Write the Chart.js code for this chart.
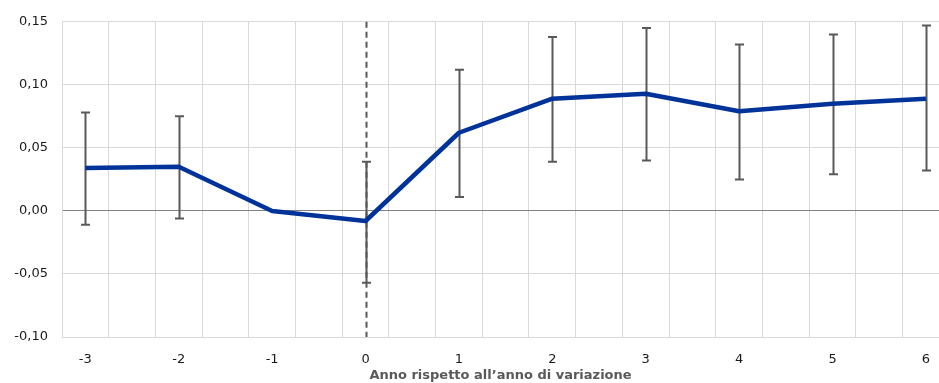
<!DOCTYPE html>
<html>
<head>
<meta charset="utf-8">
<script src="https://cdn.jsdelivr.net/npm/chart.js@4/dist/chart.umd.min.js"></script>
<style>
  html, body { margin: 0; padding: 0; background: #ffffff; overflow: hidden; }
  #wrap { width: 939px; height: 383px; position: relative; }
</style>
</head>
<body>
<div id="wrap"><canvas id="c"></canvas></div>
<script>
// Years relative to the year of change
const categories = [-3, -2, -1, 0, 1, 2, 3, 4, 5, 6];
// Point estimates
const estimate = [0.034, 0.035, 0.000, -0.008, 0.062, 0.089, 0.093, 0.079, 0.085, 0.089];
// Confidence interval bounds (reference year -1 has none)
const upper = [0.078, 0.075, null, 0.039, 0.112, 0.138, 0.145, 0.132, 0.140, 0.147];
const lower = [-0.011, -0.006, null, -0.057, 0.011, 0.039, 0.040, 0.025, 0.029, 0.032];
// Y axis ticks
const yTicks = [-0.10, -0.05, 0.00, 0.05, 0.10, 0.15];

const fmt = v => (Math.abs(v) < 1e-9 ? 0 : v).toFixed(2).replace('.', ',');

// Vertical dashed marker at the year of change, plus error bars
const overlays = {
  id: 'overlays',
  beforeDatasetsDraw(chart) {
    const { ctx, chartArea, scales: { x, y } } = chart;
    ctx.save();
    // dashed marker at 0
    const x0 = Math.round(x.getPixelForValue(0)) + 0.5;
    ctx.strokeStyle = '#595959';
    ctx.lineWidth = 2;
    ctx.setLineDash([6, 4]);
    ctx.beginPath();
    ctx.moveTo(x0, chartArea.top);
    ctx.lineTo(x0, chartArea.bottom);
    ctx.stroke();
    ctx.setLineDash([]);
    // error bars
    ctx.strokeStyle = '#595959';
    ctx.lineWidth = 2;
    categories.forEach((c, i) => {
      if (upper[i] == null || lower[i] == null) return;
      const px = Math.round(x.getPixelForValue(c)) + 0.5;
      const yt = y.getPixelForValue(upper[i]);
      const yb = y.getPixelForValue(lower[i]);
      ctx.beginPath();
      ctx.moveTo(px, yt); ctx.lineTo(px, yb);
      ctx.moveTo(px - 4.5, yt); ctx.lineTo(px + 4.5, yt);
      ctx.moveTo(px - 4.5, yb); ctx.lineTo(px + 4.5, yb);
      ctx.stroke();
    });
    ctx.restore();
  }
};

Chart.defaults.font.family = '"DejaVu Sans", sans-serif';
Chart.defaults.font.size = 13;
Chart.defaults.color = '#1a1a1a';

new Chart(document.getElementById('c'), {
  type: 'line',
  data: {
    datasets: [{
      data: categories.map((c, i) => ({ x: c, y: estimate[i] })),
      borderColor: '#003399',
      borderWidth: 4.5,
      pointRadius: 0,
      borderJoinStyle: 'round',
      tension: 0
    }]
  },
  options: {
    responsive: true,
    maintainAspectRatio: false,
    animation: false,
    layout: { padding: { top: 20, left: 0, right: 0, bottom: 0 } },
    plugins: { legend: { display: false }, tooltip: { enabled: false } },
    scales: {
      x: {
        type: 'linear',
        min: -3.25,
        max: 6.14,
        afterBuildTicks(axis) {
          const t = [];
          for (let k = 0; k <= 18; k++) t.push(-3.25 + 0.5 * k);
          categories.forEach(c => t.push(c));
          t.sort((a, b) => a - b);
          axis.ticks = t.map(v => ({ value: v }));
        },
        afterFit(axis) {
          axis.height = 46;
          axis.paddingLeft = 0;
          axis.paddingRight = 0;
        },
        grid: {
          drawTicks: false,
          lineWidth: 1,
          color: ctx => (ctx.tick && Number.isInteger(ctx.tick.value)) ? 'rgba(0,0,0,0)' : '#d9d9d9'
        },
        border: { display: true, color: '#d9d9d9', width: 1 },
        ticks: {
          autoSkip: false,
          maxRotation: 0,
          padding: 15,
          color: '#1a1a1a',
          callback: v => Number.isInteger(v) ? String(v) : ''
        },
        title: {
          display: true,
          text: 'Anno rispetto all\u2019anno di variazione',
          color: '#595959',
          font: { weight: 'bold', size: 13 },
          padding: { top: 0, bottom: 0 }
        }
      },
      y: {
        min: -0.10,
        max: 0.15,
        afterBuildTicks(axis) { axis.ticks = yTicks.map(v => ({ value: v })); },
        afterFit(axis) { axis.width = 62; },
        grid: {
          drawTicks: false,
          lineWidth: 1,
          color: ctx => (ctx.tick && Math.abs(ctx.tick.value) < 1e-9) ? '#808080' : '#d9d9d9'
        },
        border: { display: true, color: '#d9d9d9', width: 1 },
        ticks: {
          padding: 14,
          color: '#1a1a1a',
          callback: v => fmt(v)
        }
      }
    }
  },
  plugins: [overlays]
});
</script>
</body>
</html>
